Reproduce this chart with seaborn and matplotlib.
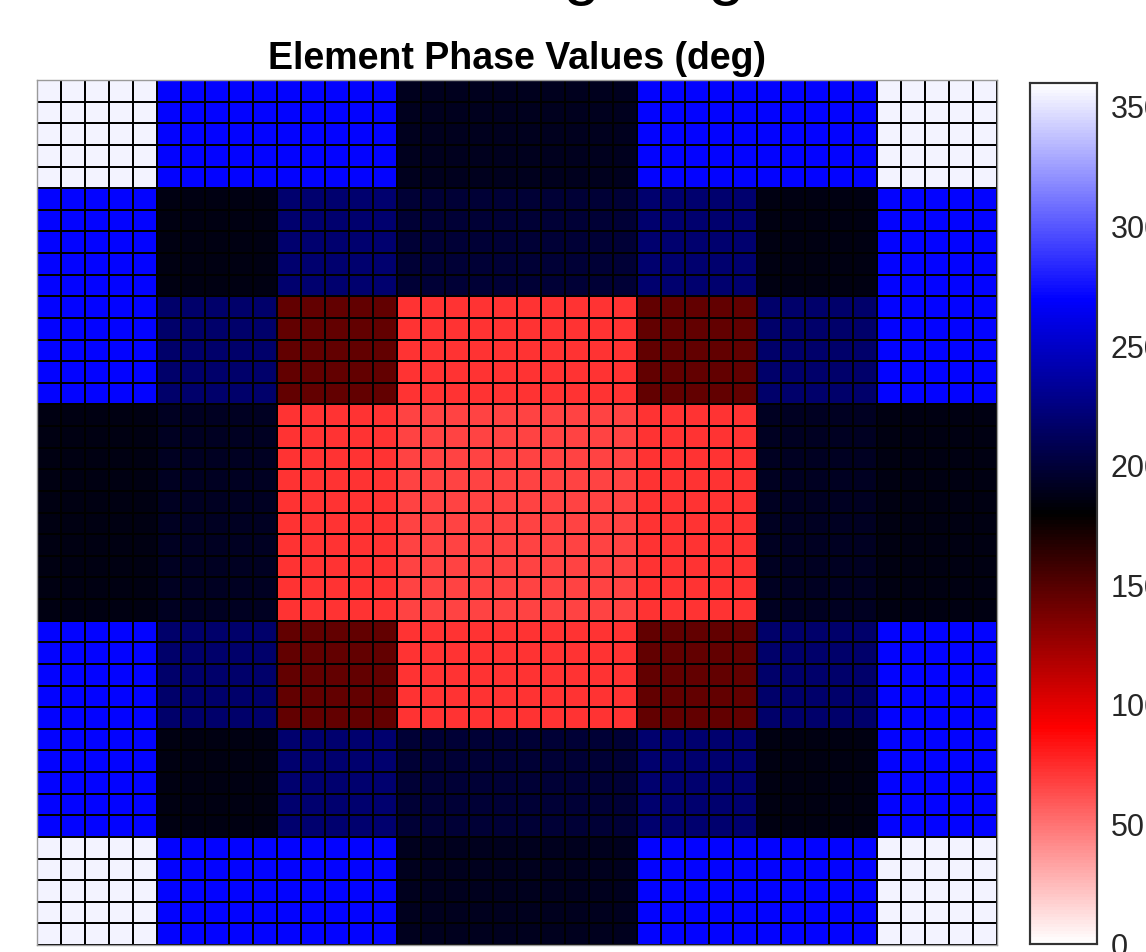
import numpy as np
import pandas as pd
import matplotlib
matplotlib.use("Agg")
import matplotlib.pyplot as plt
from matplotlib.colors import LinearSegmentedColormap
import seaborn as sns

# Phase (deg) of each 5x5 subarray, one list per row of subarrays
edge_row = [355, 270, 270, 190, 190, 270, 270, 355]
second_row = [270, 186, 219, 199, 199, 219, 186, 270]
third_row = [270, 217, 146, 73, 73, 146, 217, 270]
center_row = [187, 192, 73, 67, 67, 73, 192, 187]
subarray_rows = [edge_row, second_row, third_row, center_row,
                 center_row, third_row, second_row, edge_row]
elements_per_side = 5

cbar_ticks = [0, 50, 100, 150, 200, 250, 300, 350]
phase_min, phase_max = 0, 360

# Expand subarray phases to every element of the 40x40 array
phase = np.kron(np.array(subarray_rows, dtype=float),
                np.ones((elements_per_side, elements_per_side)))
df = pd.DataFrame(phase)

# Cyclic phase colormap: white -> red -> black -> blue -> white
phase_cmap = LinearSegmentedColormap.from_list(
    "phase_cycle",
    [(0.0, "#ffffff"), (0.25, "#ff0000"), (0.5, "#000000"),
     (0.75, "#0000ff"), (1.0, "#ffffff")],
    N=256,
)

sns.set_style("white")
plt.rcParams["font.family"] = ["Liberation Sans", "DejaVu Sans"]

W, H = 1146, 952
fig = plt.figure(figsize=(W / 100, H / 100), dpi=100)
ax = fig.add_axes([37 / W, (H - 945) / H, 960 / W, 865 / H])
cax = fig.add_axes([1030 / W, (H - 944) / H, 67 / W, 861 / H])

sns.heatmap(df, ax=ax, cbar_ax=cax, cmap=phase_cmap,
            vmin=phase_min, vmax=phase_max,
            linewidths=1.3, linecolor="black",
            xticklabels=False, yticklabels=False, square=False)

for sp in ax.spines.values():
    sp.set_visible(True)
    sp.set_color("#9a9a9a")
    sp.set_linewidth(1.0)

ax.set_title("Element Phase Values (deg)", fontsize=27, fontweight="bold",
             color="black", pad=8)

# Colorbar styling
cax.set_yticks(cbar_ticks)
cax.set_yticklabels([str(t) for t in cbar_ticks])
cax.tick_params(axis="y", direction="in", length=6, width=1.2,
                labelsize=22, labelcolor="#262626", color="#262626", pad=10)
for sp in cax.spines.values():
    sp.set_visible(True)
    sp.set_color("#333333")
    sp.set_linewidth(1.5)
cax.set_ylim(phase_min, phase_max)

# Figure heading above the plot (only its descenders fall inside the canvas)
fig.text(493 / W, 1 + 8 / H, "Phase Weighting", ha="center", va="baseline",
         fontsize=48, color="black")

fig.savefig("out.png", dpi=100)
